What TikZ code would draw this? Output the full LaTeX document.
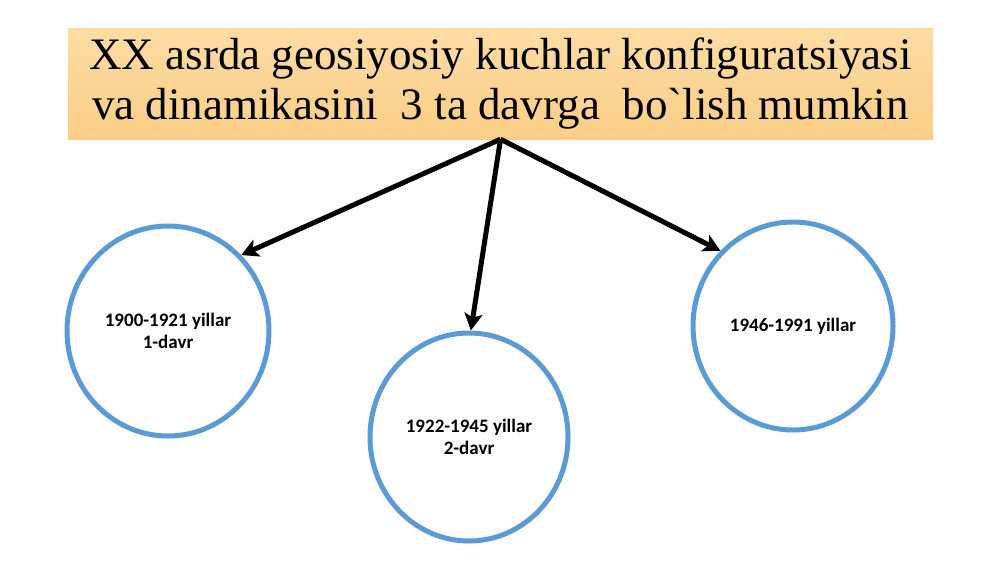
\documentclass[tikz,border=0pt]{standalone}
\usepackage{fontspec}
\setmainfont{Liberation Serif}
\newfontfamily\titlefont{Liberation Serif}
\newfontfamily\bodyfont{Carlito}
\usetikzlibrary{shapes.geometric,arrows.meta}
\definecolor{boxtop}{HTML}{FDDCA4}
\definecolor{boxbot}{HTML}{FACE86}
\definecolor{ringblue}{HTML}{5B9BD5}
\tikzset{
  titlebox/.style={rectangle, top color=boxtop, bottom color=boxbot, draw=none,
    minimum width=865pt, minimum height=111pt, inner sep=0pt, align=center,
    font=\titlefont\fontsize{45}{50}\selectfont},
  period/.style={ellipse, draw=ringblue, line width=5pt, fill=white, inner sep=0pt,
    align=center, font=\bodyfont\bfseries\fontsize{19}{22}\selectfont},
  link/.style={line width=5pt, -{Stealth[length=17pt,width=18pt,inset=4pt]}}
}
\begin{document}
\begin{tikzpicture}[x=1pt,y=-1pt]
\useasboundingbox[fill=white] (0,0) rectangle (1000,562);
\node[titlebox] (title) at (500.5,83.5) {XX asrda geosiyosiy kuchlar konfiguratsiyasi\\va dinamikasini\ \ 3 ta davrga\ \ bo`lish mumkin};
\node[period, minimum width=202pt, minimum height=210pt] (c1) at (168,331) {1900-1921 yillar\\1-davr};
\node[period, minimum width=198pt, minimum height=208pt] (c2) at (469,437) {1922-1945 yillar\\2-davr};
\node[period, minimum width=200pt, minimum height=208pt] (c3) at (793,326) {1946-1991 yillar};
\draw[link] (title.south) -- (c1.46);
\draw[link] (title.south) -- (c2.89);
\draw[link] (title.south) -- (c3.134);
\end{tikzpicture}
\end{document}
